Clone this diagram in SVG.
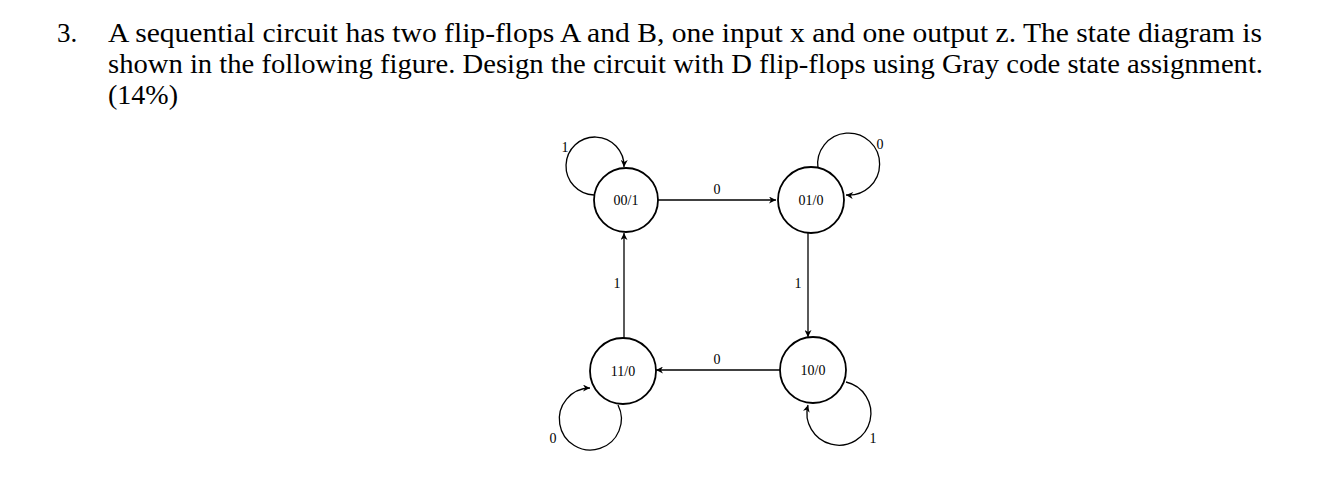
<svg xmlns="http://www.w3.org/2000/svg" width="1318" height="480" viewBox="0 0 1318 480">
<style>
.q{font-family:"Liberation Serif","Times New Roman",serif;font-size:27px;fill:#000}
.st{fill:#fff;stroke:#000;stroke-width:1.8}
.nl{font-family:"Liberation Serif","Times New Roman",serif;font-size:14px;fill:#000;text-anchor:middle}
.el{font-family:"Liberation Serif","Times New Roman",serif;font-size:14px;fill:#000;text-anchor:middle}
.ed{fill:none;stroke:#000;stroke-width:1.3;marker-end:url(#ah)}
</style>
<defs>
<marker id="ah" viewBox="0 0 10 10" refX="10" refY="5" markerWidth="8" markerHeight="7" markerUnits="userSpaceOnUse" orient="auto">
<path d="M0,0 L10,5 L0,10 L3,5 z" fill="#000"/>
</marker>
</defs>
<rect width="1318" height="480" fill="#fff"/>
<g id="question">
<text class="q" x="57" y="42">3.</text>
<text class="q" x="108" y="42" textLength="1154" lengthAdjust="spacingAndGlyphs">A sequential circuit has two flip-flops A and B, one input x and one output z. The state diagram is</text>
<text class="q" x="108" y="73" textLength="1155" lengthAdjust="spacingAndGlyphs">shown in the following figure. Design the circuit with D flip-flops using Gray code state assignment.</text>
<text class="q" x="108" y="104" textLength="70" lengthAdjust="spacingAndGlyphs">(14%)</text>
</g>
<g id="connectors">
<path class="ed" d="M658,200 L776,200"/>
<path class="ed" d="M808,232 L808,337"/>
<path class="ed" d="M780,370 L656,370"/>
<path class="ed" d="M624,338 L624,233"/>
<path class="ed" d="M594,195 A29,29 0 1 1 624,167"/>
<path class="ed" d="M818,169 A31,31 0 1 1 846,195"/>
<path class="ed" d="M618,405 A31,31 0 1 1 590,388"/>
<path class="ed" d="M846,382 A32,32 0 1 1 808,405"/>
<text class="el" x="717" y="194">0</text>
<text class="el" x="717" y="364">0</text>
<text class="el" x="617" y="288">1</text>
<text class="el" x="798" y="288">1</text>
<text class="el" x="565" y="152">1</text>
<text class="el" x="880" y="149">0</text>
<text class="el" x="553" y="443">0</text>
<text class="el" x="873" y="443">1</text>
</g>
<g id="s00"><circle class="st" cx="626" cy="200" r="32"/><text class="nl" x="626" y="205">00/1</text></g>
<g id="s01"><circle class="st" cx="811" cy="200" r="33"/><text class="nl" x="811" y="205">01/0</text></g>
<g id="s11"><circle class="st" cx="623" cy="371" r="33"/><text class="nl" x="623" y="376">11/0</text></g>
<g id="s10"><circle class="st" cx="813" cy="370" r="33"/><text class="nl" x="813" y="375">10/0</text></g>
</svg>
